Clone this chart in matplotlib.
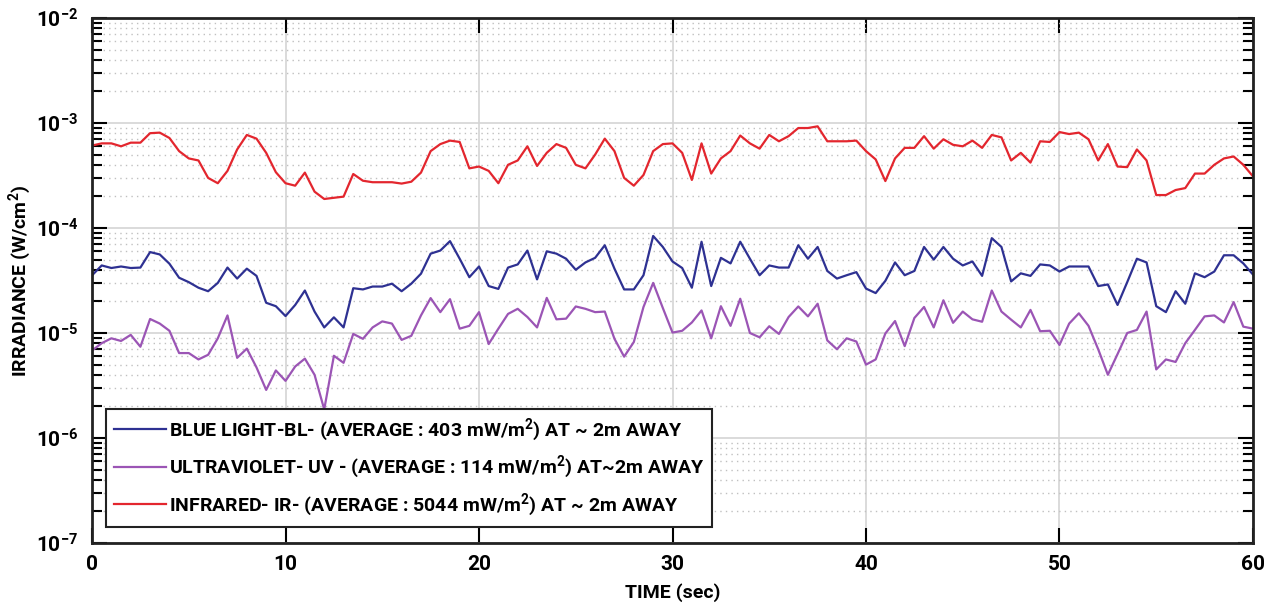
import matplotlib
matplotlib.use('Agg')
import matplotlib.pyplot as plt
from matplotlib.ticker import LogLocator, LogFormatterMathtext, NullFormatter
import numpy as np

plt.rcParams['font.family'] = ['Roboto', 'DejaVu Sans']
plt.rcParams['font.weight'] = 'bold'
plt.rcParams['mathtext.fontset'] = 'custom'
plt.rcParams['mathtext.rm'] = 'Roboto:bold'
plt.rcParams['mathtext.bf'] = 'Roboto:bold'
plt.rcParams['mathtext.default'] = 'bf'

# time axis, one sample every 0.5 s
t = np.arange(0, 60.01, 0.5)

# infrared (W/cm2)
ir = [6.1e-4, 6.4e-4, 6.4e-4, 6.0e-4, 6.5e-4, 6.5e-4, 8.0e-4, 8.1e-4, 7.2e-4, 5.4e-4,
      4.6e-4, 4.4e-4, 3.0e-4, 2.67e-4, 3.5e-4, 5.6e-4, 7.7e-4, 7.1e-4, 5.2e-4, 3.4e-4,
      2.67e-4, 2.53e-4, 3.37e-4, 2.22e-4, 1.89e-4, 1.94e-4, 1.99e-4, 3.27e-4, 2.82e-4, 2.73e-4,
      2.73e-4, 2.73e-4, 2.65e-4, 2.76e-4, 3.37e-4, 5.4e-4, 6.3e-4, 6.8e-4, 6.6e-4, 3.7e-4,
      3.85e-4, 3.5e-4, 2.67e-4, 4.0e-4, 4.4e-4, 6.0e-4, 3.9e-4, 5.2e-4, 6.3e-4, 5.8e-4,
      4.0e-4, 3.7e-4, 5.0e-4, 7.1e-4, 5.4e-4, 3.0e-4, 2.53e-4, 3.2e-4, 5.4e-4, 6.3e-4,
      6.4e-4, 5.2e-4, 2.87e-4, 6.4e-4, 3.3e-4, 4.6e-4, 5.4e-4, 7.6e-4, 6.4e-4, 5.7e-4,
      7.7e-4, 6.7e-4, 7.5e-4, 8.96e-4, 8.96e-4, 9.3e-4, 6.7e-4, 6.7e-4, 6.7e-4, 6.8e-4,
      5.4e-4, 4.5e-4, 2.8e-4, 4.6e-4, 5.8e-4, 5.8e-4, 7.5e-4, 5.7e-4, 7.0e-4, 6.2e-4,
      6.0e-4, 6.8e-4, 5.8e-4, 7.7e-4, 7.3e-4, 4.4e-4, 5.2e-4, 4.2e-4, 6.7e-4, 6.6e-4,
      8.2e-4, 7.85e-4, 8.1e-4, 7.0e-4, 4.4e-4, 6.3e-4, 3.85e-4, 3.8e-4, 5.6e-4, 4.4e-4,
      2.06e-4, 2.06e-4, 2.3e-4, 2.4e-4, 3.3e-4, 3.3e-4, 4.0e-4, 4.6e-4, 4.8e-4, 4.0e-4,
      3.1e-4]

# blue light (W/cm2)
bl = [3.54e-5, 4.4e-5, 4.16e-5, 4.3e-5, 4.16e-5, 4.2e-5, 5.9e-5, 5.6e-5, 4.57e-5, 3.36e-5,
      3.05e-5, 2.7e-5, 2.5e-5, 3.0e-5, 4.2e-5, 3.3e-5, 4.1e-5, 3.5e-5, 1.94e-5, 1.8e-5,
      1.45e-5, 1.85e-5, 2.54e-5, 1.6e-5, 1.13e-5, 1.41e-5, 1.13e-5, 2.67e-5, 2.6e-5, 2.77e-5,
      2.77e-5, 2.95e-5, 2.5e-5, 2.95e-5, 3.67e-5, 5.7e-5, 6.1e-5, 7.5e-5, 5.1e-5, 3.4e-5,
      4.3e-5, 2.8e-5, 2.63e-5, 4.2e-5, 4.5e-5, 6.1e-5, 3.24e-5, 6.0e-5, 5.7e-5, 5.1e-5,
      4.0e-5, 4.7e-5, 5.2e-5, 6.85e-5, 4.1e-5, 2.6e-5, 2.6e-5, 3.55e-5, 8.4e-5, 6.6e-5,
      4.8e-5, 4.16e-5, 2.7e-5, 7.4e-5, 2.8e-5, 5.2e-5, 4.6e-5, 7.4e-5, 5.1e-5, 3.55e-5,
      4.4e-5, 4.2e-5, 4.2e-5, 6.85e-5, 5.1e-5, 6.6e-5, 3.9e-5, 3.3e-5, 3.55e-5, 3.8e-5,
      2.65e-5, 2.4e-5, 3.14e-5, 4.7e-5, 3.55e-5, 3.9e-5, 6.6e-5, 5.0e-5, 6.6e-5, 5.1e-5,
      4.4e-5, 4.8e-5, 3.5e-5, 8.0e-5, 6.6e-5, 3.1e-5, 3.7e-5, 3.5e-5, 4.5e-5, 4.4e-5,
      3.85e-5, 4.3e-5, 4.3e-5, 4.3e-5, 2.8e-5, 2.9e-5, 1.85e-5, 3.05e-5, 5.1e-5, 4.7e-5,
      1.8e-5, 1.58e-5, 2.5e-5, 1.9e-5, 3.7e-5, 3.4e-5, 3.85e-5, 5.5e-5, 5.5e-5, 4.6e-5,
      3.6e-5]

# ultraviolet (W/cm2)
uv = [6.8e-6, 8.0e-6, 8.9e-6, 8.4e-6, 9.6e-6, 7.4e-6, 1.36e-5, 1.23e-5, 1.05e-5, 6.44e-6,
      6.44e-6, 5.6e-6, 6.2e-6, 8.9e-6, 1.47e-5, 5.8e-6, 7.1e-6, 4.7e-6, 2.87e-6, 4.4e-6,
      3.5e-6, 4.8e-6, 5.7e-6, 4.0e-6, 1.87e-6, 6.07e-6, 5.2e-6, 9.8e-6, 8.8e-6, 1.13e-5,
      1.29e-5, 1.23e-5, 8.6e-6, 9.4e-6, 1.47e-5, 2.15e-5, 1.58e-5, 2.1e-5, 1.1e-5, 1.17e-5,
      1.58e-5, 7.85e-6, 1.1e-5, 1.52e-5, 1.7e-5, 1.42e-5, 1.13e-5, 2.16e-5, 1.35e-5, 1.37e-5,
      1.79e-5, 1.7e-5, 1.58e-5, 1.6e-5, 8.8e-6, 5.95e-6, 8.2e-6, 1.77e-5, 3.0e-5, 1.73e-5,
      1.01e-5, 1.05e-5, 1.26e-5, 1.64e-5, 8.9e-6, 1.8e-5, 1.17e-5, 2.12e-5, 1.0e-5, 9.1e-6,
      1.16e-5, 9.8e-6, 1.42e-5, 1.79e-5, 1.44e-5, 1.9e-5, 8.5e-6, 7.0e-6, 8.9e-6, 8.3e-6,
      5.0e-6, 5.6e-6, 9.9e-6, 1.3e-5, 7.5e-6, 1.39e-5, 1.77e-5, 1.13e-5, 2.05e-5, 1.25e-5,
      1.6e-5, 1.35e-5, 1.28e-5, 2.54e-5, 1.6e-5, 1.34e-5, 1.13e-5, 1.66e-5, 1.04e-5, 1.05e-5,
      7.7e-6, 1.23e-5, 1.54e-5, 1.17e-5, 7.0e-6, 4.0e-6, 6.3e-6, 1.0e-5, 1.07e-5, 1.6e-5,
      4.5e-6, 5.6e-6, 5.3e-6, 8.0e-6, 1.07e-5, 1.44e-5, 1.47e-5, 1.26e-5, 1.97e-5, 1.15e-5,
      1.1e-5]

labels = [r'BLUE LIGHT-BL- (AVERAGE : 403 mW/m$^{2}$) AT ~ 2m AWAY',
          r'ULTRAVIOLET- UV - (AVERAGE : 114 mW/m$^{2}$) AT~2m AWAY',
          r'INFRARED- IR- (AVERAGE : 5044 mW/m$^{2}$) AT ~ 2m AWAY']
colors = ['#2e3192', '#9b55b5', '#e3262e']

fig = plt.figure(figsize=(12.8, 6.05), dpi=100)
ax = fig.add_axes([0.0719, 0.1025, 0.9070, 0.8677])

ax.plot(t, bl, color=colors[0], lw=1.6, label=labels[0])
ax.plot(t, uv, color=colors[1], lw=1.6, label=labels[1])
ax.plot(t, ir, color=colors[2], lw=1.6, label=labels[2])

ax.set_yscale('log')
ax.set_xlim(0, 60)
ax.set_ylim(1e-7, 1e-2)
ax.set_xticks([0, 10, 20, 30, 40, 50, 60])
ax.yaxis.set_major_locator(LogLocator(base=10, numticks=10))
ax.yaxis.set_major_formatter(LogFormatterMathtext())
ax.yaxis.set_minor_locator(LogLocator(base=10, subs=np.arange(2, 10), numticks=20))
ax.yaxis.set_minor_formatter(NullFormatter())

# matlab-like grid: solid majors, dotted minors
ax.grid(which='major', color='#d4d4d4', lw=1.2, ls='-')
ax.grid(which='minor', axis='y', color='#c0c0c0', lw=1.0, ls=(0, (1, 3)))
ax.set_axisbelow(True)

ax.tick_params(which='both', direction='in', top=True, right=True, width=1.5, labelsize=15)
ax.tick_params(axis='x', pad=9)
ax.tick_params(axis='y', pad=10)
ax.tick_params(which='major', length=11)
ax.tick_params(which='minor', length=7)
for sp in ax.spines.values():
    sp.set_linewidth(2)
    sp.set_color('#222222')

ax.set_xlabel('TIME (sec)', fontsize=14, fontweight='bold', labelpad=6)
ax.set_ylabel(r'IRRADIANCE (W/cm$^{2}$)', fontsize=14, fontweight='bold')
ax.yaxis.set_label_coords(-0.05, 0.5)

leg = ax.legend(loc='lower left', bbox_to_anchor=(0.012, 0.0305), borderaxespad=0,
                fontsize=14, fancybox=False, edgecolor='#222222', framealpha=1,
                handlelength=2.7, borderpad=0.4, labelspacing=0.55, handletextpad=0.15)
leg.get_frame().set_linewidth(1.5)

plt.savefig('out.png', dpi=100)
